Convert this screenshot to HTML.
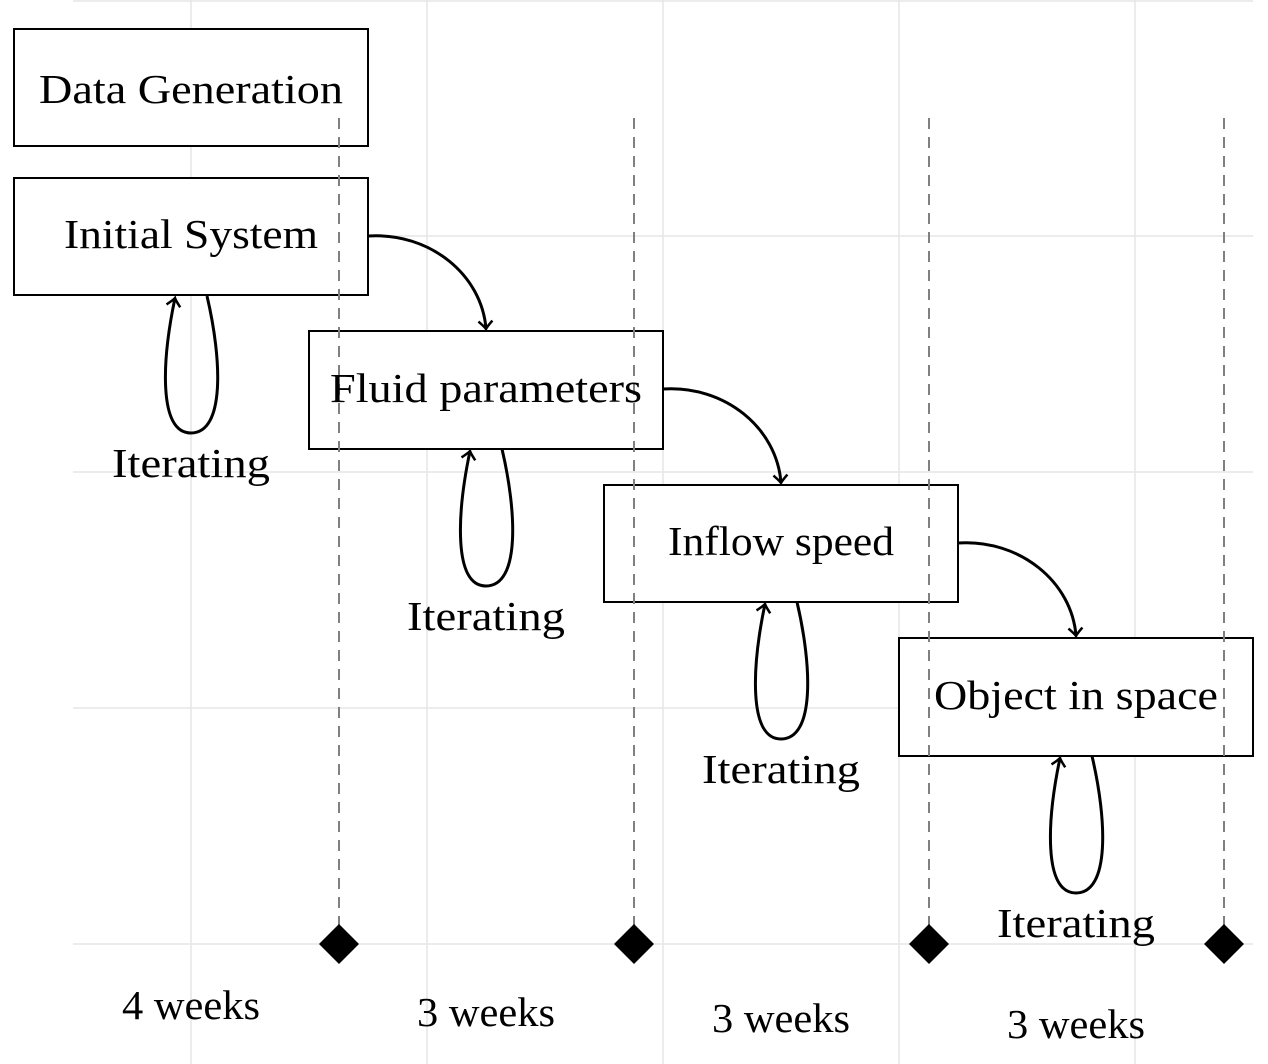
<!DOCTYPE html>
<html><head><style>body{margin:0;background:#fff}svg{display:block}</style></head><body>
<svg width="1268" height="1064" viewBox="0 0 1268 1064" xmlns="http://www.w3.org/2000/svg" font-family="Liberation Serif, serif" font-size="41">
<defs>
<marker id="ah" viewBox="-10 -10 20 20" markerWidth="20" markerHeight="20" refX="0" refY="0" orient="auto" markerUnits="userSpaceOnUse">
<path d="M-8,-7 Q-2,-1 0,0 Q-2,1 -8,7" fill="none" stroke="#000" stroke-width="2.5"/>
</marker>
</defs>
<g stroke="#e6e6e6" stroke-width="1.5">
<line x1="73" y1="1" x2="1253" y2="1"/><line x1="73" y1="236" x2="1253" y2="236"/><line x1="73" y1="472" x2="1253" y2="472"/><line x1="73" y1="708" x2="1253" y2="708"/><line x1="73" y1="944" x2="1253" y2="944"/>
<line x1="191" y1="0" x2="191" y2="1064"/><line x1="427" y1="0" x2="427" y2="1064"/><line x1="663" y1="0" x2="663" y2="1064"/><line x1="899" y1="0" x2="899" y2="1064"/><line x1="1135" y1="0" x2="1135" y2="1064"/>
</g>
<g fill="#fff" stroke="#000" stroke-width="2">
<rect x="14" y="29" width="354" height="117"/>
<rect x="14" y="178" width="354" height="117"/>
<rect x="309" y="331" width="354" height="118"/>
<rect x="604" y="485" width="354" height="117"/>
<rect x="899" y="638" width="354" height="118"/>
</g>
<g stroke="#808080" stroke-width="2" stroke-dasharray="11,8">
<line x1="339" y1="118" x2="339" y2="930"/><line x1="634" y1="118" x2="634" y2="930"/><line x1="929" y1="118" x2="929" y2="930"/><line x1="1224" y1="118" x2="1224" y2="930"/>
</g>
<g fill="#000">
<path d="M339,924 L359,944 L339,964 L319,944Z"/><path d="M634,924 L654,944 L634,964 L614,944Z"/><path d="M929,924 L949,944 L929,964 L909,944Z"/><path d="M1224,924 L1244,944 L1224,964 L1204,944Z"/>
</g>
<g fill="none" stroke="#000" stroke-width="3" marker-end="url(#ah)">
<path d="M207,296 C222,360 225,433 191,433 C158,433 162,360 175,298"/>
<path d="M502,449 C517,513 520,586 486,586 C453,586 457,513 470,451"/>
<path d="M797,602 C812,666 815,739 781,739 C748,739 752,666 765,604"/>
<path d="M1092,756 C1107,820 1110,893 1076,893 C1043,893 1047,820 1060,758"/>
<path d="M368,236 C430,232 482,275 486,329"/>
<path d="M663,389 C725,385 777,428 781,483"/>
<path d="M958,543 C1020,539 1072,582 1076,636"/>
</g>
<g text-anchor="middle" fill="#000" lengthAdjust="spacingAndGlyphs">
<text x="191" y="103" textLength="304" lengthAdjust="spacingAndGlyphs">Data Generation</text>
<text x="191" y="248" textLength="254" lengthAdjust="spacingAndGlyphs">Initial System</text>
<text x="486" y="402" textLength="312" lengthAdjust="spacingAndGlyphs">Fluid parameters</text>
<text x="781" y="555" textLength="226" lengthAdjust="spacingAndGlyphs">Inflow speed</text>
<text x="1076" y="709" textLength="284" lengthAdjust="spacingAndGlyphs">Object in space</text>
<text x="191" y="477" textLength="158" lengthAdjust="spacingAndGlyphs">Iterating</text>
<text x="486" y="630" textLength="158" lengthAdjust="spacingAndGlyphs">Iterating</text>
<text x="781" y="783" textLength="158" lengthAdjust="spacingAndGlyphs">Iterating</text>
<text x="1076" y="937" textLength="158" lengthAdjust="spacingAndGlyphs">Iterating</text>
<text x="191" y="1019" textLength="138" lengthAdjust="spacingAndGlyphs">4 weeks</text>
<text x="486" y="1026" textLength="138" lengthAdjust="spacingAndGlyphs">3 weeks</text>
<text x="781" y="1032" textLength="138" lengthAdjust="spacingAndGlyphs">3 weeks</text>
<text x="1076" y="1038" textLength="138" lengthAdjust="spacingAndGlyphs">3 weeks</text>
</g>
</svg>
</body></html>
